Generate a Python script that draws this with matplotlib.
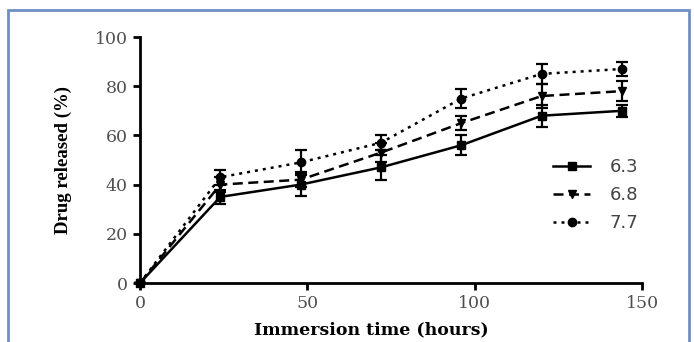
import matplotlib.pyplot as plt
from matplotlib.patches import Rectangle

# Data
time_h = [0, 24, 48, 72, 96, 120, 144]

ph_labels = ["6.3", "6.8", "7.7"]

release_63 = [0, 35, 40, 47, 56, 68, 70]
err_63 = [0, 3, 4.5, 5, 4, 4.5, 2.5]

release_68 = [0, 40, 42, 53, 65, 76, 78]
err_68 = [0, 3, 3, 4, 3, 5, 4]

release_77 = [0, 43, 49, 57, 75, 85, 87]
err_77 = [0, 3, 5, 3, 4, 4, 3]

x_ticks = [0, 50, 100, 150]
y_ticks = [0, 20, 40, 60, 80, 100]

fig = plt.figure(figsize=(6.94, 3.42), dpi=100)

# frame around the figure (text-box border)
fig.patches.append(Rectangle((8 / 694, -0.05), 681 / 694, 1.05 - 10 / 342,
                             transform=fig.transFigure, fill=False,
                             edgecolor="#6f8fc4", linewidth=2))

ax = fig.add_axes([140 / 694, 59 / 342, 502 / 694, 246 / 342])

series = [
    (release_63, err_63, "-", "s"),
    (release_68, err_68, (0, (4, 2.2)), "v"),
    (release_77, err_77, (0, (1.2, 2)), "o"),
]
handles = []
for label, (vals, errs, ls, mk) in zip(ph_labels, series):
    c = ax.errorbar(time_h, vals, yerr=errs, color="black", linestyle=ls,
                    linewidth=1.8, marker=mk, markersize=6, capsize=4,
                    elinewidth=1.6, capthick=1.6, label=label, clip_on=False)
    handles.append(c.lines[0])

ax.set_xlim(0, 150)
ax.set_ylim(0, 100)
ax.set_xticks(x_ticks)
ax.set_yticks(y_ticks)

for side in ["top", "right"]:
    ax.spines[side].set_visible(False)
for side in ["left", "bottom"]:
    ax.spines[side].set_linewidth(2)

ax.tick_params(direction="out", length=5, width=2, colors="black",
               labelcolor="#505050", labelsize=12.5, pad=4)
for t in ax.get_xticklabels() + ax.get_yticklabels():
    t.set_fontfamily("DejaVu Serif")

ax.set_xlabel("Immersion time (hours)", fontsize=12.5, fontweight="bold",
              family="DejaVu Serif")
ax.xaxis.set_label_coords((371 - 140) / 502, -0.155)
ax.set_ylabel("Drug released (%)", fontsize=13.5, fontweight="bold",
              family="Liberation Serif", labelpad=16)

leg = fig.legend(handles=handles, labels=ph_labels, loc="center left",
                 bbox_to_anchor=(553 / 694, 1 - 195 / 342), frameon=False,
                 handlelength=2.05, handletextpad=1.1, borderpad=0,
                 borderaxespad=0, labelspacing=0.55,
                 prop={"family": "DejaVu Sans", "size": 13})
for txt in leg.get_texts():
    txt.set_color("#444444")

fig.savefig("out.png", dpi=100)
